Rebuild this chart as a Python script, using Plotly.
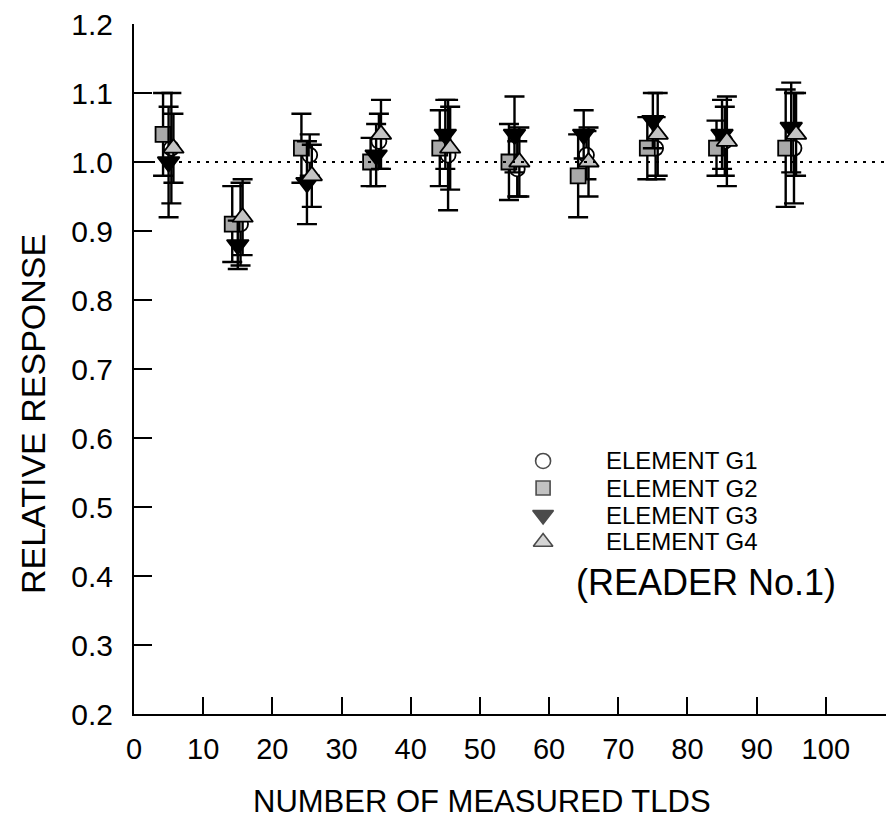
import plotly.graph_objects as go

# Number of measured TLDs at which each element group was evaluated
n_tlds = [5, 15, 25, 35, 45, 55, 65, 75, 85, 95]

# Relative response (mean) and error-bar half-width for each element
g1 = [1.02, 0.91, 1.01, 1.03, 1.01, 0.99, 1.01, 1.02, 1.03, 1.02]
g1_err = [0.08, 0.06, 0.03, 0.04, 0.08, 0.04, 0.035, 0.045, 0.05, 0.08]
g2 = [1.04, 0.91, 1.02, 1.00, 1.02, 1.00, 0.98, 1.02, 1.02, 1.02]
g2_err = [0.06, 0.055, 0.05, 0.035, 0.055, 0.055, 0.06, 0.045, 0.04, 0.085]
g3 = [1.00, 0.88, 0.97, 1.01, 1.04, 1.04, 1.04, 1.06, 1.04, 1.05]
g3_err = [0.08, 0.035, 0.06, 0.045, 0.05, 0.055, 0.035, 0.04, 0.05, 0.065]
g4 = [1.02, 0.92, 0.98, 1.04, 1.02, 1.00, 1.00, 1.04, 1.03, 1.04]
g4_err = [0.05, 0.055, 0.045, 0.05, 0.06, 0.05, 0.05, 0.06, 0.065, 0.06]

element_names = ["ELEMENT G1", "ELEMENT G2", "ELEMENT G3", "ELEMENT G4"]
reader_label = "(READER No.1)"
x_title = "NUMBER OF MEASURED TLDS"
y_title = "RELATIVE RESPONSE"
reference_level = 1.0

x_ticks = [0, 10, 20, 30, 40, 50, 60, 70, 80, 90, 100]
y_ticks = [0.2, 0.3, 0.4, 0.5, 0.6, 0.7, 0.8, 0.9, 1.0, 1.1, 1.2]

FONT = "Liberation Sans, Arial, Helvetica, sans-serif"

# marker style per element: symbol, size, fill, small horizontal shift
styles = [
    dict(symbol="circle", size=15, fill="white", shift=0.4),
    dict(symbol="square", size=15, fill="#a9a9a9", shift=-0.8),
    dict(symbol="triangle-down", size=19, fill="black", shift=0.0),
    dict(symbol="triangle-up", size=18, fill="#c4c4c4", shift=0.7),
]
series = [(g1, g1_err), (g2, g2_err), (g3, g3_err), (g4, g4_err)]

fig = go.Figure()

for name, (vals, errs), st in zip(element_names, series, styles):
    fig.add_trace(go.Scatter(
        x=[n + st["shift"] for n in n_tlds],
        y=vals,
        mode="markers",
        name=name,
        showlegend=False,
        error_y=dict(type="data", array=errs, visible=True,
                     color="black", thickness=2.4, width=10),
        marker=dict(symbol=st["symbol"], size=st["size"], color=st["fill"],
                    line=dict(color="black", width=1.8)),
    ))

# key: symbols on an overlay axis spanning the plot area, labels as text
key_x = 0.544
key_y = [0.3667, 0.3275, 0.2884, 0.2493]
fig.add_trace(go.Scatter(
    x=[key_x] * 4, y=key_y, xaxis="x2", yaxis="y2",
    mode="markers", showlegend=False, hoverinfo="skip",
    marker=dict(symbol=[s["symbol"] for s in styles],
                size=[15, 14, 18, 17],
                color=[s["fill"] for s in styles],
                line=dict(color="black", width=1.6)),
))
for name, ky in zip(element_names, key_y):
    fig.add_annotation(x=0.626, y=ky, xref="paper", yref="paper",
                       text=name, showarrow=False, xanchor="left",
                       yanchor="middle", borderpad=0,
                       font=dict(family=FONT, size=24, color="black"))
fig.add_annotation(x=0.761, y=0.191, xref="paper", yref="paper",
                   text=reader_label, showarrow=False, xanchor="center",
                   yanchor="middle",
                   font=dict(family=FONT, size=36, color="black"))

# axis titles
fig.add_annotation(x=0.463, y=-0.1275, xref="paper", yref="paper",
                   text=x_title, showarrow=False, xanchor="center",
                   yanchor="middle", borderpad=0,
                   font=dict(family=FONT, size=31, color="black"))
fig.add_annotation(x=-0.134, y=0.435, xref="paper", yref="paper",
                   text=y_title, showarrow=False, textangle=-90,
                   xanchor="center", yanchor="middle",
                   font=dict(family=FONT, size=34, color="black"))

# dotted reference line at unity response
fig.add_shape(type="line", xref="paper", x0=0, x1=1, yref="y",
              y0=reference_level, y1=reference_level,
              line=dict(color="black", width=2.2, dash="3px,6px"))

fig.update_layout(
    width=886, height=820,
    margin=dict(l=134, r=0, t=24, b=106),
    paper_bgcolor="white", plot_bgcolor="white",
    font=dict(family=FONT, color="black"),
    xaxis=dict(
        range=[0, 108.7], tickvals=x_ticks, ticks="inside", ticklen=17,
        tickwidth=2, tickcolor="black", showline=True, linewidth=2,
        linecolor="black", showgrid=False, zeroline=False,
        tickfont=dict(size=29), ticklabelstandoff=8,
    ),
    yaxis=dict(
        range=[0.2, 1.2], tickvals=y_ticks, tickformat=".1f",
        ticks="inside", ticklen=18, tickwidth=2, tickcolor="black",
        showline=True, linewidth=2, linecolor="black", showgrid=False,
        zeroline=False, tickfont=dict(size=30), ticklabelstandoff=13,
    ),
    xaxis2=dict(range=[0, 1], overlaying="x", visible=False,
                fixedrange=True),
    yaxis2=dict(range=[0, 1], overlaying="y", visible=False,
                fixedrange=True),
)

fig.write_html("out.html")
